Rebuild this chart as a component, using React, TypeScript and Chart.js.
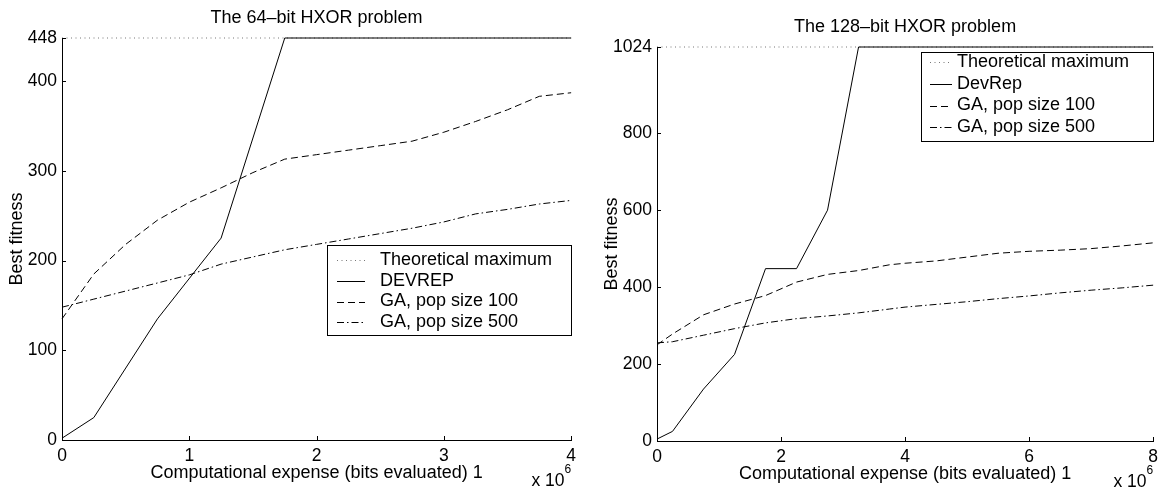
import React, { useEffect, useRef } from "react";
import { Chart, registerables } from "chart.js";
Chart.register(...registerables);

const FONT = "'Liberation Sans', Arial, Helvetica, sans-serif";

// ---------- Data (x in millions of bits evaluated) ----------
// 64-bit HXOR
const max64X = [0, 4];
const max64Y = [448, 448];
const dev64X = [0, 0.25, 0.75, 1.25, 1.75, 4];
const dev64Y = [2, 25, 135, 225, 448, 448];
const ga64X = [0, 0.25, 0.5, 0.75, 1, 1.25, 1.5, 1.75, 2, 2.25, 2.5, 2.75, 3, 3.25, 3.5, 3.75, 4];
const ga100_64Y = [135, 185, 218, 245, 265, 281, 298, 313, 318, 323, 328, 333, 343, 355, 368, 383, 387];
const ga500_64Y = [148, 157, 166, 175, 184, 196, 204, 212, 218, 224, 230, 236, 243, 252, 257, 263, 267];
const xTicks64 = [0, 1, 2, 3, 4];
const yTicks64 = [0, 100, 200, 300, 400, 448];

// 128-bit HXOR
const max128X = [0, 8];
const max128Y = [1024, 1024];
const dev128X = [0, 0.25, 0.75, 1.25, 1.75, 2.25, 2.75, 3.25, 8];
const dev128Y = [5, 25, 135, 225, 448, 448, 600, 1024, 1024];
const ga128X = [0, 0.25, 0.75, 1.25, 1.75, 2.25, 2.75, 3.25, 3.75, 4, 4.5, 5, 5.5, 6, 6.5, 7, 7.5, 8];
const ga100_128Y = [250, 278, 328, 356, 378, 413, 433, 443, 458, 462, 468, 478, 488, 493, 496, 500, 507, 515];
const ga500_128Y = [255, 258, 275, 292, 307, 318, 325, 333, 343, 348, 355, 362, 370, 377, 385, 392, 398, 405];
const xTicks128 = [0, 2, 4, 6, 8];
const yTicks128 = [0, 200, 400, 600, 800, 1024];

const labels64 = ["Theoretical maximum", "DEVREP", "GA, pop size 100", "GA, pop size 500"];
const labels128 = ["Theoretical maximum", "DevRep", "GA, pop size 100", "GA, pop size 500"];

const title64 = "The 64\u2013bit HXOR problem";
const title128 = "The 128\u2013bit HXOR problem";
const xLabel = "Computational expense (bits evaluated) 1";
const yLabel = "Best fitness";

const zip = (xs: number[], ys: number[]) => xs.map((x, i) => ({ x, y: ys[i] }));

type Panel = {
  title: string;
  labels: string[];
  series: { x: number[]; y: number[] }[];
  xMax: number;
  yMax: number;
  xTicks: number[];
  yTicks: number[];
  pad: { top: number; right: number };
  yWidth: number;
  xHeight: number;
  legend: { x: number; y: number; w: number; h: number; rows: number[]; s1: number; s2: number; tx: number };
};

const styles = [
  { color: "#777777", dash: [1, 3.5], order: 10 },
  { color: "#000000", dash: [] as number[], order: 0 },
  { color: "#000000", dash: [7, 4], order: 1 },
  { color: "#000000", dash: [7, 3, 1.5, 3], order: 2 },
];

function makeConfig(p: Panel): any {
  const decor = {
    id: "decor",
    afterDraw(chart: any) {
      const { ctx, chartArea: a, scales } = chart;
      const xs = scales.x;
      const ys = scales.y;
      ctx.save();
      ctx.strokeStyle = "#000";
      ctx.lineWidth = 1;
      ctx.setLineDash([]);
      // inward ticks
      p.yTicks.forEach((v) => {
        const py = Math.round(ys.getPixelForValue(v)) + 0.5;
        ctx.beginPath();
        ctx.moveTo(a.left, py);
        ctx.lineTo(a.left + 4, py);
        ctx.stroke();
      });
      p.xTicks.forEach((v) => {
        const px = Math.round(xs.getPixelForValue(v)) + 0.5;
        ctx.beginPath();
        ctx.moveTo(px, a.bottom);
        ctx.lineTo(px, a.bottom - 4);
        ctx.stroke();
      });
      ctx.fillStyle = "#000";
      const cx = (a.left + a.right) / 2;
      // title
      ctx.font = `18px ${FONT}`;
      ctx.textAlign = "center";
      ctx.textBaseline = "middle";
      ctx.fillText(p.title, cx, a.top - 20);
      // x label
      ctx.fillText(xLabel, cx, a.bottom + 33);
      // x 10^6
      ctx.font = `12px ${FONT}`;
      ctx.textAlign = "right";
      ctx.fillText("6", a.right, a.bottom + 30);
      const w6 = ctx.measureText("6").width;
      ctx.font = `17.5px ${FONT}`;
      ctx.fillText("x 10", a.right - w6, a.bottom + 41);
      // y label
      ctx.save();
      ctx.translate(a.left - 45, (a.top + a.bottom) / 2);
      ctx.rotate(-Math.PI / 2);
      ctx.textAlign = "center";
      ctx.font = `18px ${FONT}`;
      ctx.fillText(yLabel, 0, 0);
      ctx.restore();
      // legend
      const L = p.legend;
      ctx.fillStyle = "#fff";
      ctx.fillRect(L.x, L.y, L.w, L.h);
      ctx.strokeStyle = "#000";
      ctx.strokeRect(L.x + 0.5, L.y + 0.5, L.w, L.h);
      chart.data.datasets.forEach((ds: any, i: number) => {
        const ry = L.rows[i];
        ctx.strokeStyle = ds.borderColor;
        ctx.setLineDash(ds.borderDash || []);
        ctx.beginPath();
        ctx.moveTo(L.s1, Math.round(ry) + 0.5);
        ctx.lineTo(L.s2, Math.round(ry) + 0.5);
        ctx.stroke();
        ctx.setLineDash([]);
        ctx.fillStyle = "#000";
        ctx.font = `18px ${FONT}`;
        ctx.textAlign = "left";
        ctx.textBaseline = "middle";
        ctx.fillText(ds.label, L.tx, ry);
      });
      ctx.restore();
    },
  };

  return {
    type: "line",
    data: {
      datasets: p.series.map((s, i) => ({
        label: p.labels[i],
        data: zip(s.x, s.y),
        borderColor: styles[i].color,
        borderDash: styles[i].dash,
        borderWidth: 1,
        pointRadius: 0,
        tension: 0,
        fill: false,
        clip: false,
        order: styles[i].order,
      })),
    },
    options: {
      responsive: false,
      maintainAspectRatio: false,
      animation: false,
      devicePixelRatio: 1,
      layout: { padding: { left: 0, top: p.pad.top, right: p.pad.right, bottom: 0 } },
      plugins: { legend: { display: false }, tooltip: { enabled: false }, title: { display: false } },
      scales: {
        x: {
          type: "linear",
          min: 0,
          max: p.xMax,
          afterBuildTicks: (s: any) => {
            s.ticks = p.xTicks.map((v) => ({ value: v }));
          },
          afterFit: (s: any) => {
            s.height = p.xHeight;
          },
          ticks: {
            color: "#000",
            font: { family: FONT, size: 17.5 },
            padding: 6,
            maxRotation: 0,
            autoSkip: false,
            callback: (v: any) => String(v),
          },
          grid: { display: true, drawOnChartArea: false, drawTicks: false, color: "rgba(0,0,0,0)" },
          border: { display: true, color: "#000", width: 1 },
        },
        y: {
          type: "linear",
          min: 0,
          max: p.yMax,
          afterBuildTicks: (s: any) => {
            s.ticks = p.yTicks.map((v) => ({ value: v }));
          },
          afterFit: (s: any) => {
            s.width = p.yWidth;
          },
          ticks: {
            color: "#000",
            font: { family: FONT, size: 17.5 },
            padding: 5,
            autoSkip: false,
            callback: (v: any) => String(v),
          },
          grid: { display: true, drawOnChartArea: false, drawTicks: false, color: "rgba(0,0,0,0)" },
          border: { display: true, color: "#000", width: 1 },
        },
      },
    },
    plugins: [decor],
  };
}

const panel64: Panel = {
  title: title64,
  labels: labels64,
  series: [
    { x: max64X, y: max64Y },
    { x: dev64X, y: dev64Y },
    { x: ga64X, y: ga100_64Y },
    { x: ga64X, y: ga500_64Y },
  ],
  xMax: 4,
  yMax: 448,
  xTicks: xTicks64,
  yTicks: yTicks64,
  pad: { top: 38, right: 10 },
  yWidth: 62,
  xHeight: 49,
  legend: { x: 327, y: 245, w: 244, h: 90, rows: [260, 281, 301.5, 322], s1: 337, s2: 365, tx: 380 },
};

const panel128: Panel = {
  title: title128,
  labels: labels128,
  series: [
    { x: max128X, y: max128Y },
    { x: dev128X, y: dev128Y },
    { x: ga128X, y: ga100_128Y },
    { x: ga128X, y: ga500_128Y },
  ],
  xMax: 8,
  yMax: 1024,
  xTicks: xTicks128,
  yTicks: yTicks128,
  pad: { top: 47, right: 7 },
  yWidth: 75,
  xHeight: 48,
  legend: { x: 339, y: 52, w: 232, h: 89, rows: [62, 84, 105.5, 127], s1: 348, s2: 370, tx: 375 },
};

function ChartCanvas({ panel, left }: { panel: Panel; left: number }) {
  const ref = useRef<HTMLCanvasElement | null>(null);
  useEffect(() => {
    if (!ref.current) return;
    const chart = new Chart(ref.current, makeConfig(panel));
    return () => chart.destroy();
  }, [panel]);
  return (
    <canvas
      ref={ref}
      width={582}
      height={489}
      style={{ position: "absolute", left, top: 0, width: 582, height: 489 }}
    />
  );
}

export default function App() {
  return (
    <div style={{ position: "fixed", left: 0, top: 0, width: 1164, height: 489, background: "#fff" }}>
      <ChartCanvas panel={panel64} left={0} />
      <ChartCanvas panel={panel128} left={582} />
    </div>
  );
}
